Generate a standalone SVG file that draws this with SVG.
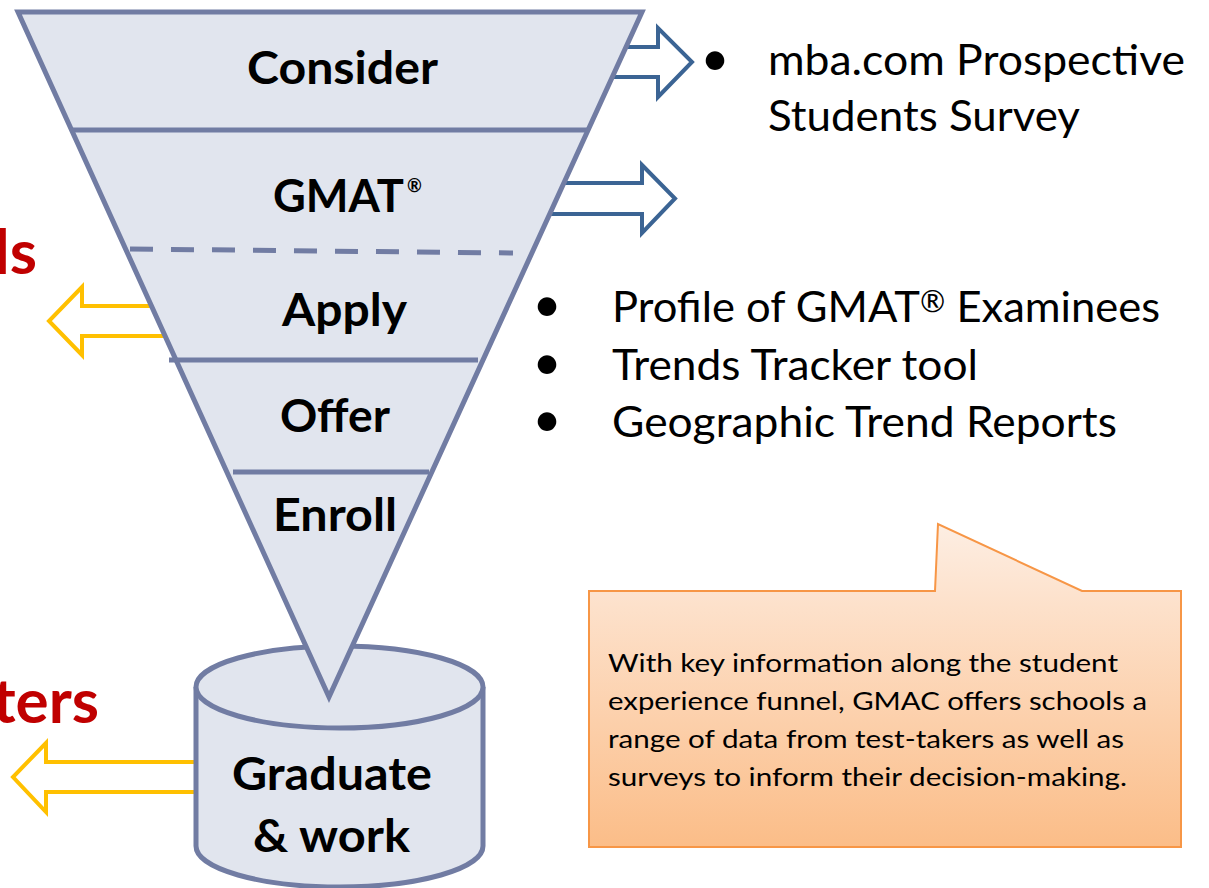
<svg xmlns="http://www.w3.org/2000/svg" width="1209" height="888" viewBox="0 0 1209 888">
  <defs>
    <linearGradient id="calloutFill" x1="0" y1="0" x2="0" y2="1">
      <stop offset="0" stop-color="#fdeee3"/>
      <stop offset="0.25" stop-color="#fde1cb"/>
      <stop offset="1" stop-color="#fbbd88"/>
    </linearGradient>
    <style>
      .shape { fill: #e1e5ee; stroke: #717ca3; stroke-width: 5; }
      .divider { stroke: #717ca3; stroke-width: 5; fill: none; }
      .arrow-blue { fill: #ffffff; stroke: #3b6494; stroke-width: 4; stroke-linejoin: miter; }
      .arrow-gold { fill: #ffffff; stroke: #ffc000; stroke-width: 4; stroke-linejoin: miter; }
      .stage { font-family: Lato, "Open Sans", sans-serif; font-weight: 700; font-size: 46px; fill: #000000; }
      .mark { font-family: Lato, "Open Sans", sans-serif; font-weight: 700; font-size: 18px; fill: #000000; }
      .bullet { font-family: Lato, "Open Sans", sans-serif; font-size: 43px; fill: #000000; }
      .dot { font-family: Lato, "Open Sans", sans-serif; font-size: 50px; fill: #000000; }
      .note { font-family: Lato, "Open Sans", sans-serif; font-size: 24.5px; fill: #000000; }
      .side { font-family: Lato, "Open Sans", sans-serif; font-weight: 700; font-size: 62px; fill: #c00000; }
    </style>
  </defs>

  <rect width="1209" height="888" fill="#ffffff"/>

  <!-- block arrows leaving the funnel -->
  <g id="connectors">
    <polygon class="arrow-blue" points="600,47 658,47 658,28 692,62 658,97 658,77 600,77"/>
    <polygon class="arrow-blue" points="540,183 642,183 642,165 675,198.5 642,233 642,214 540,214"/>
    <polygon class="arrow-gold" points="200,306 82,306 82,287 49,321 82,355 82,336 200,336"/>
    <polygon class="arrow-gold" points="230,762 46,762 46,743 13,777 46,812 46,792 230,792"/>
  </g>

  <!-- outcome cylinder -->
  <g id="node-graduate">
    <path class="shape" d="M196,687 L196,846 A143.5,41 0 0 0 483,846 L483,687"/>
    <ellipse class="shape" cx="339.5" cy="687" rx="143.5" ry="41"/>
    <text class="stage" x="232" y="790" textLength="200" lengthAdjust="spacingAndGlyphs">Graduate</text>
    <text class="stage" x="253" y="852" textLength="157" lengthAdjust="spacingAndGlyphs">&amp; work</text>
  </g>

  <!-- funnel body and stage separators -->
  <g id="funnel">
    <polygon class="shape" points="18,12 642,12 329,697" stroke-linejoin="miter"/>
    <line class="divider" x1="71" y1="130" x2="588" y2="130"/>
    <line class="divider" x1="130" y1="249" x2="513" y2="253" stroke-dasharray="23 18"/>
    <line class="divider" x1="169" y1="360" x2="478" y2="360"/>
    <line class="divider" x1="233" y1="472" x2="429" y2="472"/>
  </g>

  <g id="node-consider">
    <text class="stage" x="247" y="84" textLength="191" lengthAdjust="spacingAndGlyphs">Consider</text>
  </g>
  <g id="node-gmat">
    <text class="stage" x="273" y="212" textLength="131" lengthAdjust="spacingAndGlyphs">GMAT</text>
    <text class="mark" x="407" y="192">®</text>
  </g>
  <g id="node-apply">
    <text class="stage" x="282" y="326" textLength="125" lengthAdjust="spacingAndGlyphs">Apply</text>
  </g>
  <g id="node-offer">
    <text class="stage" x="280" y="432" textLength="110" lengthAdjust="spacingAndGlyphs">Offer</text>
  </g>
  <g id="node-enroll">
    <text class="stage" x="273" y="531" textLength="124" lengthAdjust="spacingAndGlyphs">Enroll</text>
  </g>

  <!-- side labels running off the left edge -->
  <text class="side" x="37" y="274" text-anchor="end">ls</text>
  <text class="side" x="99" y="723" text-anchor="end">ters</text>

  <!-- data sources -->
  <g id="sources-consider">
    <text class="dot" x="715" y="76" text-anchor="middle">•</text>
    <text class="bullet" x="768" y="75" textLength="417" lengthAdjust="spacingAndGlyphs">mba.com Prospective</text>
    <text class="bullet" x="768" y="131" textLength="312" lengthAdjust="spacingAndGlyphs">Students Survey</text>
  </g>
  <g id="sources-gmat">
    <text class="dot" x="547" y="322" text-anchor="middle">•</text>
    <text class="bullet" x="612" y="322" textLength="548" lengthAdjust="spacingAndGlyphs">Profile of GMAT<tspan font-size="30" dy="-10">®</tspan><tspan dy="10"> Examinees</tspan></text>
    <text class="dot" x="547" y="380" text-anchor="middle">•</text>
    <text class="bullet" x="612" y="380" textLength="366" lengthAdjust="spacingAndGlyphs">Trends Tracker tool</text>
    <text class="dot" x="547" y="437" text-anchor="middle">•</text>
    <text class="bullet" x="612" y="437" textLength="505" lengthAdjust="spacingAndGlyphs">Geographic Trend Reports</text>
  </g>

  <!-- callout -->
  <g id="callout">
    <path d="M589,591 L935,591 L938,524 L1082,591 L1181,591 L1181,847 L589,847 Z" fill="url(#calloutFill)" stroke="#f79646" stroke-width="2"/>
    <text class="note" x="608" y="672" textLength="510" lengthAdjust="spacingAndGlyphs">With key information along the student</text>
    <text class="note" x="608" y="710" textLength="539" lengthAdjust="spacingAndGlyphs">experience funnel, GMAC offers schools a</text>
    <text class="note" x="608" y="748" textLength="516" lengthAdjust="spacingAndGlyphs">range of data from test-takers as well as</text>
    <text class="note" x="608" y="786" textLength="519" lengthAdjust="spacingAndGlyphs">surveys to inform their decision-making.</text>
  </g>
</svg>
